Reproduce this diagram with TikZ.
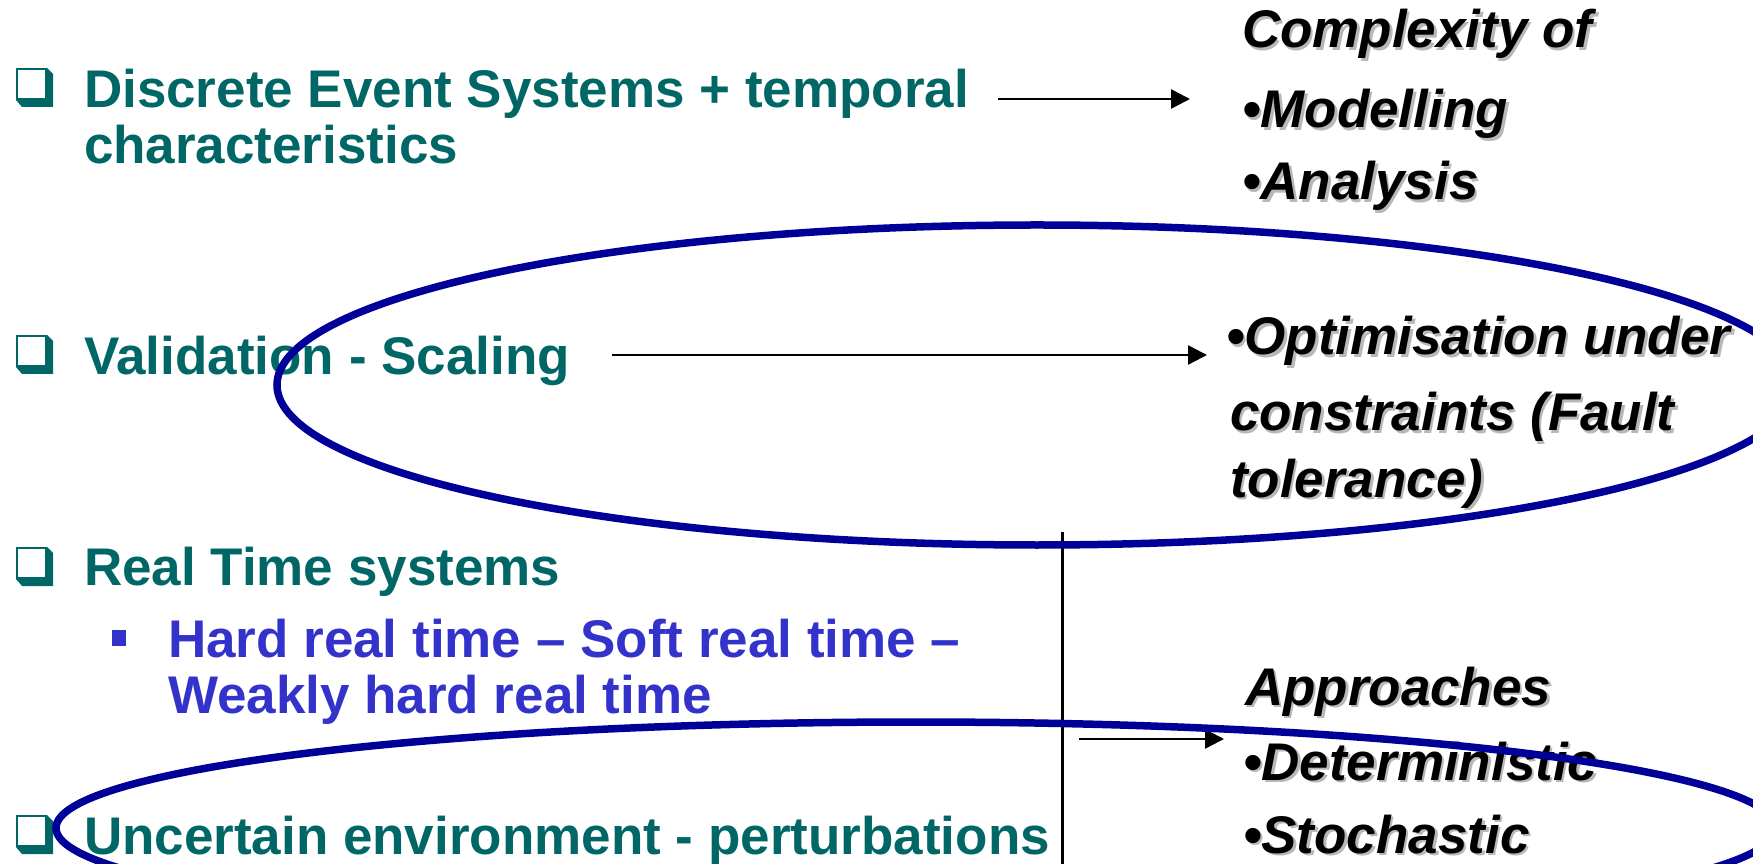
\documentclass[tikz,border=0pt]{standalone}
\usepackage{fontspec}
\setmainfont{Liberation Sans}
\usepackage{tikz}
\usetikzlibrary{arrows.meta}
\usepackage{xcolor}
\definecolor{dteal}{HTML}{006666}
\definecolor{sblue}{HTML}{3333CC}
\definecolor{rblue}{HTML}{000099}
\newcommand{\shd}[1]{\rlap{\kern0.025cm\raisebox{-0.025cm}{\color{black!28}#1}}#1}
\tikzset{
  item/.style={anchor=base west,inner sep=0pt,outer sep=0pt,text=dteal,font=\fontsize{15.08}{18}\selectfont\bfseries},
  sub/.style={item,text=sblue},
  ital/.style={anchor=base west,inner sep=0pt,outer sep=0pt,font=\fontsize{15.08}{18}\selectfont\bfseries\itshape},
  arr/.style={line width=0.024cm,-{Triangle[length=0.19cm,width=0.19cm]}},
  ring/.style={draw=rblue,line width=0.075cm},
  qbox/.pic={
    \draw[line width=0.018cm] (0.009,0.079) rectangle (0.301,0.381);
    \fill (0.31,0.39) -- (0.37,0.33) -- (0.37,0) -- (0.06,0) -- (0,0.07) -- (0.31,0.07) -- cycle;
  }
}

\begin{document}
\begin{tikzpicture}
  \useasboundingbox (0,0) rectangle (17.53,-8.64);
  \clip (0,0) rectangle (17.53,-8.64);

  \pic[color=dteal] at (0.16,-1.07) {qbox};
  \node[item] (des1) at (0.84,-1.08) {Discrete Event Systems + temporal};
  \node[item] (des2) at (0.84,-1.64) {characteristics};
  \pic[color=dteal] at (0.16,-3.74) {qbox};
  \node[item] (val) at (0.84,-3.75) {Validation - Scaling};
  \pic[color=dteal] at (0.16,-5.86) {qbox};
  \node[item] (rts) at (0.84,-5.86) {Real Time systems};
  \fill[sblue] (1.12,-6.30) rectangle (1.26,-6.46);
  \node[sub] (hrd1) at (1.68,-6.57) {Hard real time -- Soft real time --};
  \node[sub] (hrd2) at (1.68,-7.13) {Weakly hard real time};
  \pic[color=dteal] at (0.16,-8.54) {qbox};
  \node[item] (unc) at (0.84,-8.54) {Uncertain environment - perturbations};

  \node[ital] (cpx) at (12.42,-0.48) {\shd{Complexity of}};
  \node[ital] (mod) at (12.42,-1.28) {\shd{\textbullet Modelling}};
  \node[ital] (ana) at (12.42,-2.00) {\shd{\textbullet Analysis}};
  \node[ital] (opt1) at (12.26,-3.55) {\shd{\textbullet Optimisation under}};
  \node[ital] (opt2) at (12.30,-4.31) {\shd{constraints (Fault}};
  \node[ital] (opt3) at (12.30,-4.97) {\shd{tolerance)}};
  \node[ital] (apr) at (12.45,-7.05) {\shd{Approaches}};
  \node[ital] (det) at (12.43,-7.80) {\shd{\textbullet Deterministic}};
  \node[ital] (sto) at (12.43,-8.53) {\shd{\textbullet Stochastic}};

  \draw[arr] ([shift={(0.29,0.09)}]des1.base east) -- ([shift={(-0.52,0.29)}]mod.base west);
  \draw[arr] ([shift={(0.42,0.20)}]val.base east) -- ([shift={(-0.19,0)}]opt1.base west);
  \coordinate (a3) at (10.79,-7.39);
  \draw[arr] (a3) -- ([shift={(-0.19,0.41)}]det.base west);
  \draw[line width=0.03cm] (10.62,-5.32) -- (10.62,-8.64);

  \draw[ring] (10.37,-3.85) ellipse [x radius=7.6cm, y radius=1.6cm];
  \draw[ring] (9.16,-8.28) ellipse [x radius=8.6cm, y radius=1.06cm];
\end{tikzpicture}
\end{document}
